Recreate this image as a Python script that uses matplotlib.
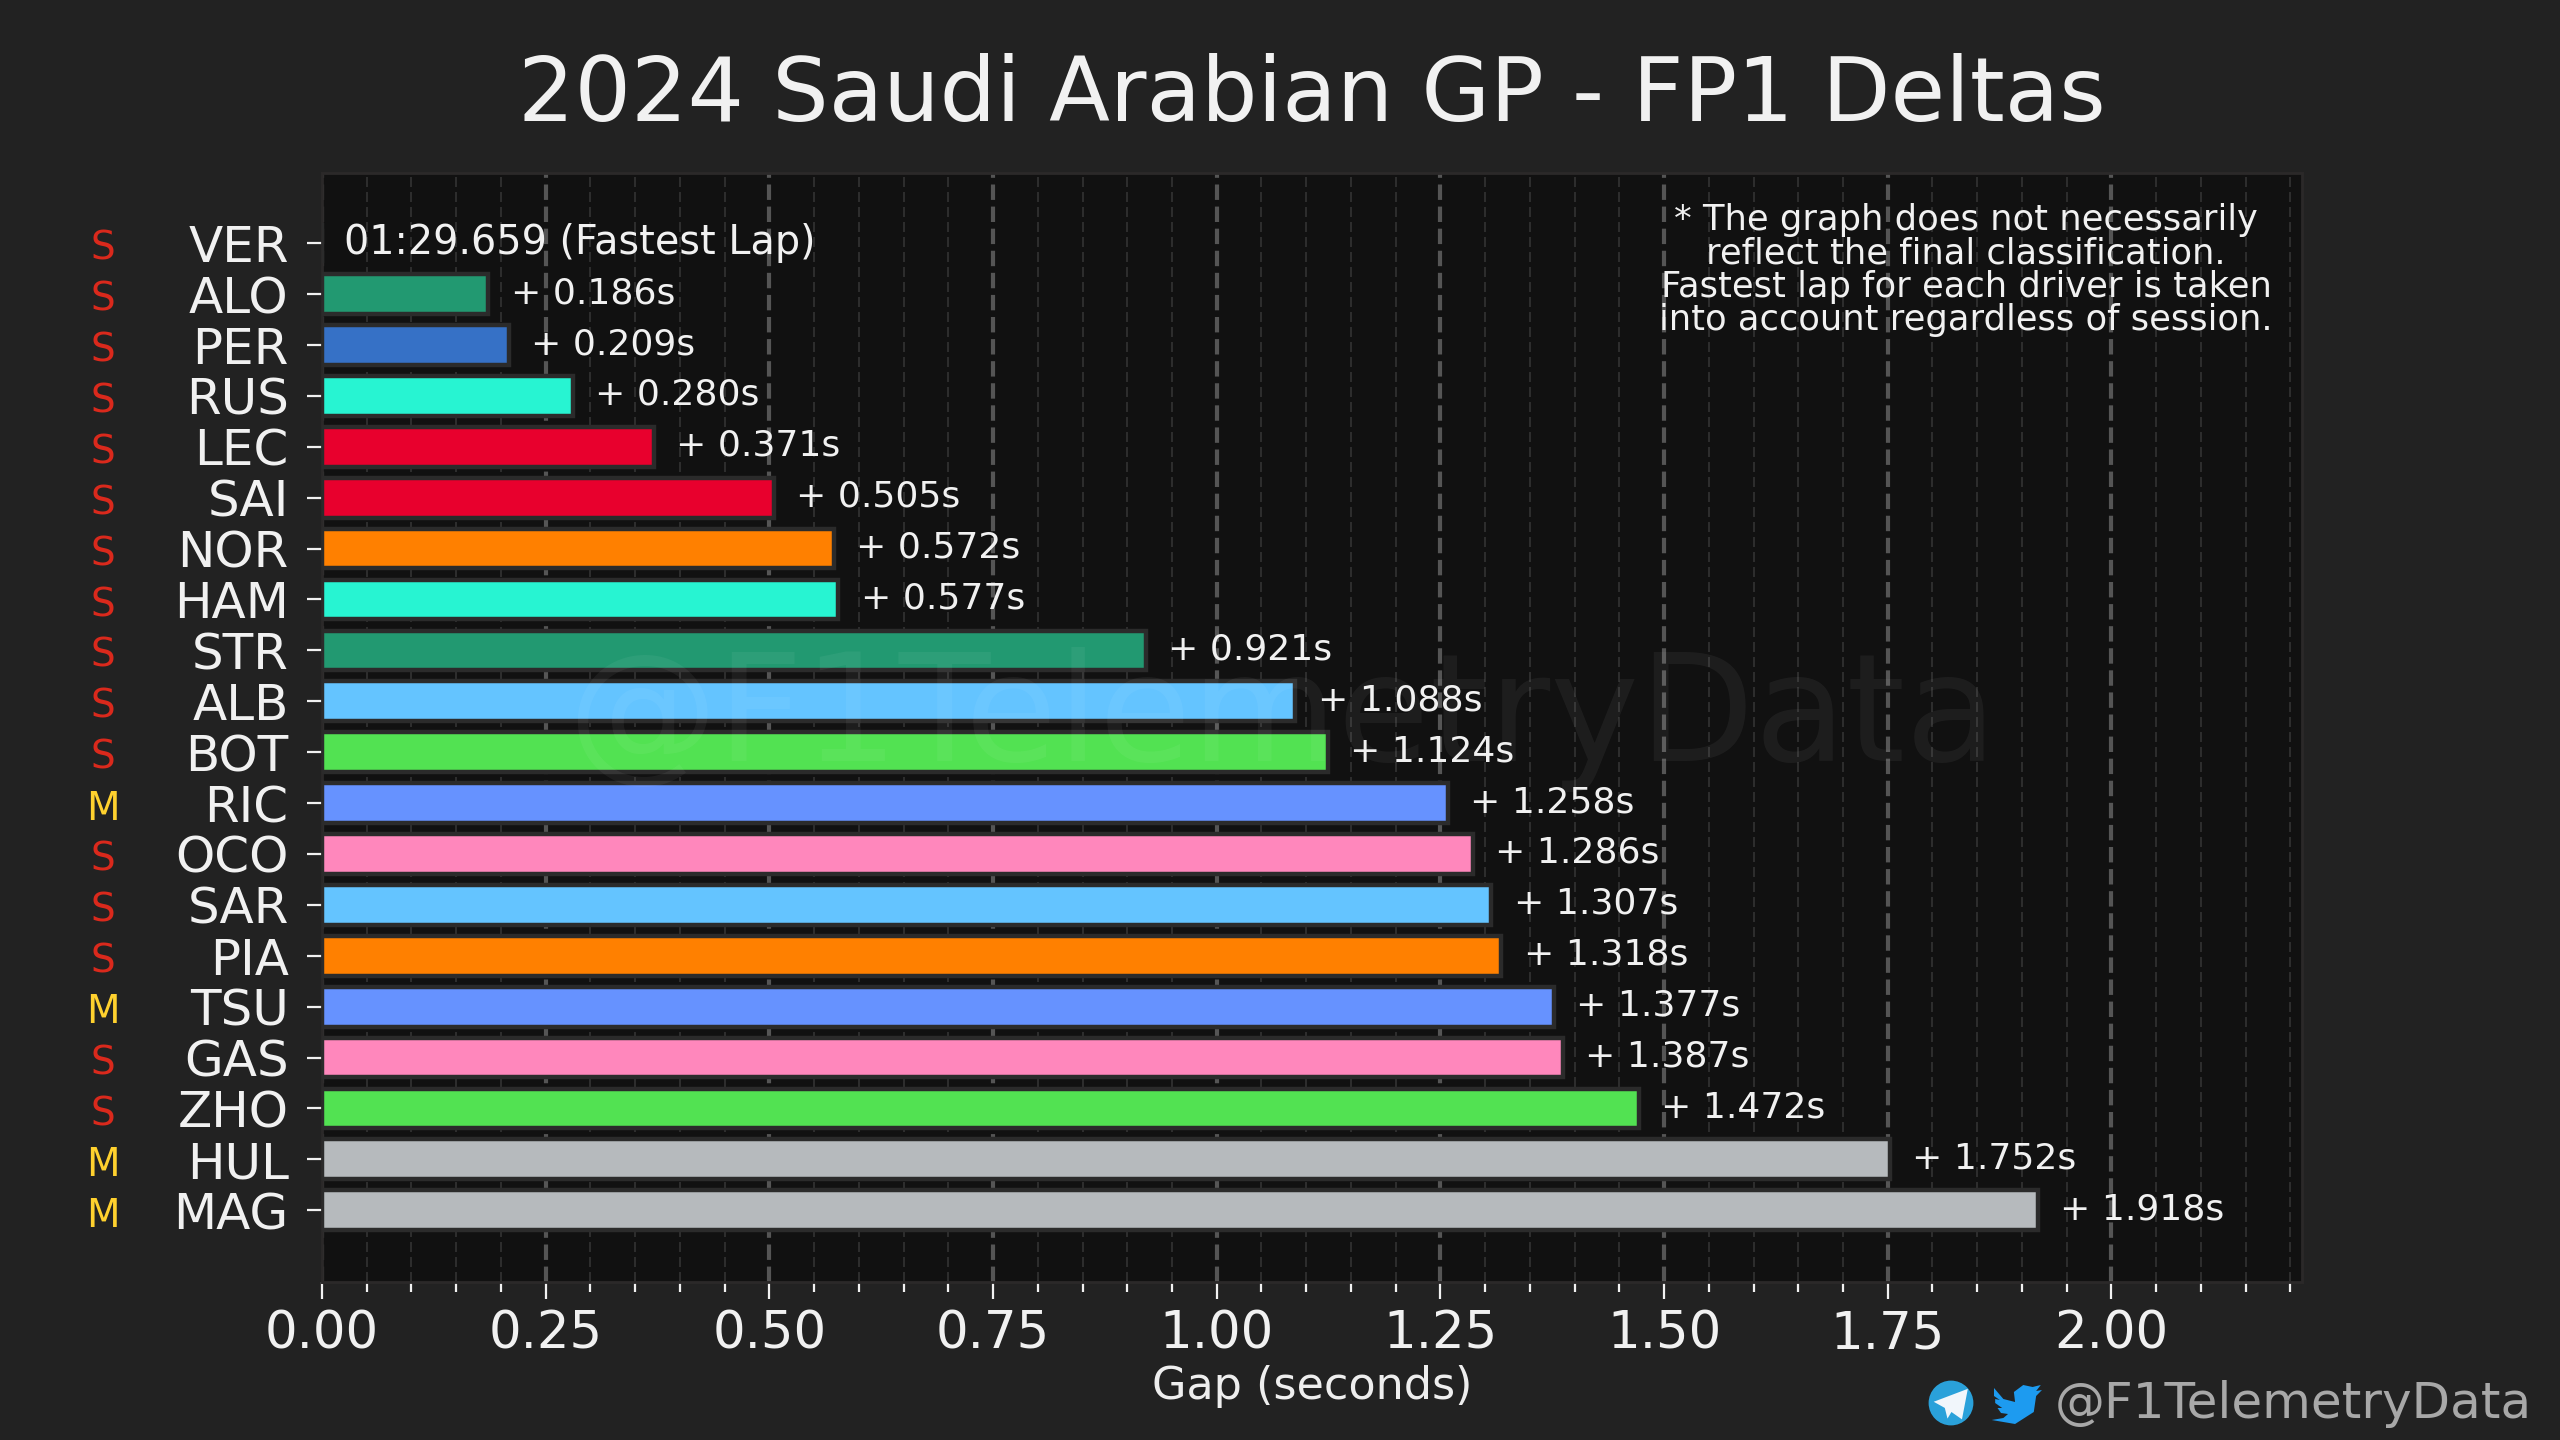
import numpy as np
import matplotlib
matplotlib.use("Agg")
import matplotlib.pyplot as plt
from matplotlib.path import Path
from matplotlib.patches import PathPatch, Ellipse, Polygon
from matplotlib.ticker import MultipleLocator

drivers = ["VER", "ALO", "PER", "RUS", "LEC", "SAI", "NOR", "HAM", "STR", "ALB",
           "BOT", "RIC", "OCO", "SAR", "PIA", "TSU", "GAS", "ZHO", "HUL", "MAG"]
deltas = [0.0, 0.186, 0.209, 0.280, 0.371, 0.505, 0.572, 0.577, 0.921, 1.088,
          1.124, 1.258, 1.286, 1.307, 1.318, 1.377, 1.387, 1.472, 1.752, 1.918]
tyres = ["S", "S", "S", "S", "S", "S", "S", "S", "S", "S",
         "S", "M", "S", "S", "S", "M", "S", "S", "M", "M"]
colors = ["#3671C6", "#229971", "#3671C6", "#27F4D2", "#E8002D", "#E8002D", "#FF8000", "#27F4D2",
          "#229971", "#64C4FF", "#52E252", "#6692FF", "#FF87BC", "#64C4FF", "#FF8000", "#6692FF",
          "#FF87BC", "#52E252", "#B6BABD", "#B6BABD"]
tyre_colors = {"S": "#DA291C", "M": "#FFD12E"}
fastest = "01:29.659 (Fastest Lap)"
note = ("* The graph does not necessarily\nreflect the final classification.\n"
        "Fastest lap for each driver is taken\ninto account regardless of session.")

W, H = 2560, 1440
plt.rcParams["font.family"] = "DejaVu Sans"
fig = plt.figure(figsize=(12.8, 7.2), dpi=200, facecolor="#222222")
ax = fig.add_axes([322/W, 1 - 1282/H, (2302-322)/W, (1282-173)/H], facecolor="#111111")

y = np.arange(len(drivers))
ax.barh(y, deltas, height=0.78, color=colors, edgecolor="#2b2b2b", linewidth=1.6, zorder=3)
ax.set_xlim(0, 2.213)
ax.set_ylim(20.41, -1.38)

ax.set_yticks(y)
ax.set_yticklabels(drivers, fontsize=18, color="#f1f1f1")
ax.tick_params(axis="y", color="#f1f1f1", length=5.5, width=0.8, pad=6.5)
ax.xaxis.set_major_locator(MultipleLocator(0.25))
ax.xaxis.set_minor_locator(MultipleLocator(0.05))
ax.xaxis.set_major_formatter("{x:.2f}")
ax.tick_params(axis="x", which="major", color="#f1f1f1", labelcolor="#f1f1f1", labelsize=18.5, length=6, width=0.8, pad=4)
ax.tick_params(axis="x", which="minor", color="#f1f1f1", length=3.5, width=0.8)
ax.grid(axis="x", which="major", color="#555555", linestyle="--", linewidth=1.5, zorder=1)
ax.grid(axis="x", which="minor", color="#333333", linestyle=(0, (6, 3)), linewidth=0.6, zorder=1)
ax.set_axisbelow(True)
for s in ax.spines.values():
    s.set_color("#2b2929")
    s.set_linewidth(1.0)
ax.set_xlabel("Gap (seconds)", fontsize=16, color="#eeeeee", labelpad=2)

# fastest lap + gaps
ax.text(0.025, 0, fastest, color="#f1f1f1", fontsize=14.3, va="center", ha="left", zorder=5)
for i in y[1:]:
    ax.text(deltas[i] + 0.025, i - 0.02, "+ %.3fs" % deltas[i], color="#f1f1f1",
            fontsize=13, va="center", ha="left", zorder=5)

# tyre compound next to driver
for i, t in zip(y, tyres):
    ax.annotate(t, xy=(0, i), xycoords=("axes fraction", "data"), xytext=(-79, -2),
                textcoords="offset points", color=tyre_colors[t], fontsize=14,
                va="center", ha="center", annotation_clip=False)

ax.text(1282/W, 1 - 720/H, "@F1TelemetryData", transform=fig.transFigure, color="#ffffff", alpha=0.05,
        fontsize=54, ha="center", va="center", zorder=4)
fig.text(1966/W, 1 - 203/H, note, color="#f1f1f1", fontsize=12.7, ha="center", va="top",
         linespacing=0.98, zorder=5)

fig.text(1312/W, 1 - 97/H, "2024 Saudi Arabian GP - FP1 Deltas", color="#f1f1f1", fontsize=32,
         ha="center", va="center")

# footer handle and icons
fig.text(2532/W, 1 - 1404/H, "@F1TelemetryData", color="#a8a8a8", fontsize=18, ha="right", va="center")
icons = fig.add_axes([0, 0, 1, 1], facecolor="none")
icons.set_xlim(0, W)
icons.set_ylim(H, 0)
icons.axis("off")
icons.add_patch(Ellipse((1951, 1403), 42, 42, color="#2AA1DA"))
icons.add_patch(Polygon([[1937, 1402], [1966, 1391], [1961, 1417], [1951, 1410], [1948, 1415], [1946, 1407]],
                        closed=True, color="#F1F6FB"))
bird = [(1994, 1388), (2002, 1399), (2012, 1402), (2011, 1392), (2019, 1385), (2027, 1387),
        (2034, 1385), (2030, 1391), (2035, 1390), (2030, 1396), (2028, 1412), (2012, 1424),
        (1992, 1420), (2002, 1418), (2006, 1414), (2000, 1413), (1997, 1408), (2001, 1408),
        (1995, 1403), (1995, 1399), (1999, 1400), (1994, 1396), (1994, 1388)]
bird = [(1994 + (bx - 1994)*1.17, by) for bx, by in bird]
icons.add_patch(PathPatch(Path(bird), facecolor="#1D9BF0", edgecolor="none"))

fig.savefig("out.png", dpi=200, facecolor=fig.get_facecolor())
